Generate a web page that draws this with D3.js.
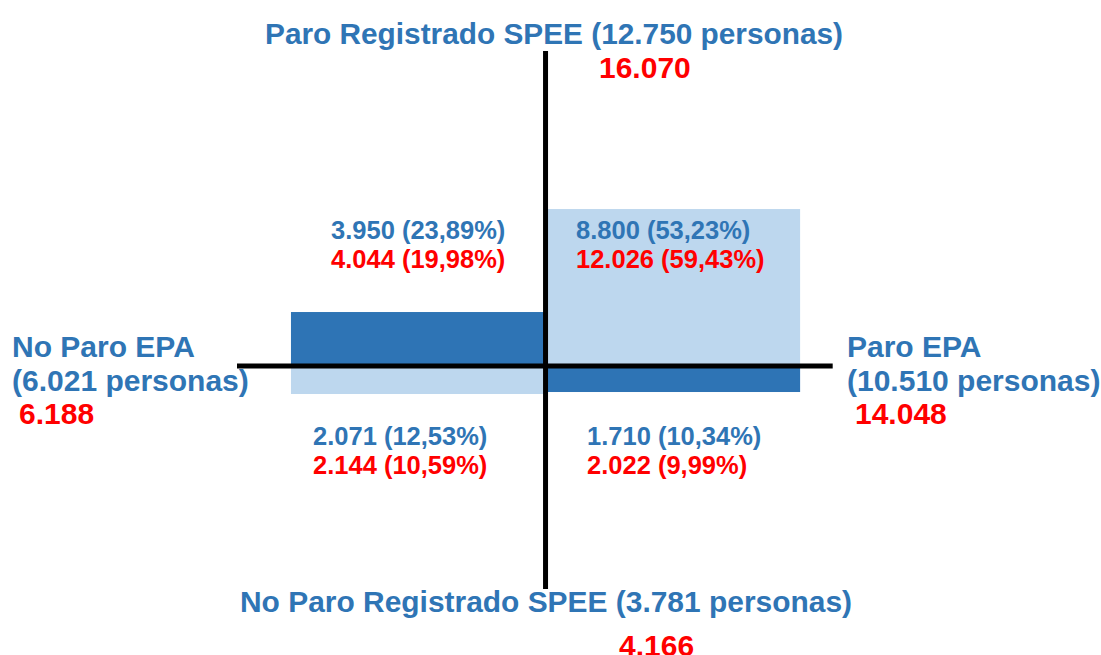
<html>
<head>
<meta charset="utf-8">
<style>
  body { margin: 0; background: #fff; }
  text { font-family: "Liberation Sans", Arial, sans-serif; font-weight: bold; }
  .blue { fill: #2f75b5; }
  .red { fill: #ff0000; }
</style>
</head>
<body>
<script src="https://cdnjs.cloudflare.com/ajax/libs/d3/7.8.5/d3.min.js"></script>
<script>
  var width = 1101,
      height = 655;

  // quadrants: side of the EPA axis (-1 no paro, 1 paro), SPEE (1 registrado, -1 no registrado)
  var quadrants = ["noEpa_spee", "epa_spee", "noEpa_noSpee", "epa_noSpee"];
  var epaSide = [-1, 1, -1, 1];
  var speeSide = [1, 1, -1, -1];
  // bar length as drawn in the picture (persons)
  var barLength = [3027, 8800, 1569, 1457];
  var barFill = ["#2e74b5", "#bdd7ee", "#bdd7ee", "#2e74b5"];
  var blueLabels = ["3.950 (23,89%)", "8.800 (53,23%)", "2.071 (12,53%)", "1.710 (10,34%)"];
  var redLabels = ["4.044 (19,98%)", "12.026 (59,43%)", "2.144 (10,59%)", "2.022 (9,99%)"];

  var axisTitles = ["Paro Registrado SPEE (12.750 personas)", "No Paro Registrado SPEE (3.781 personas)"];
  var axisTotals = ["16.070", "4.166"];
  var sideTitles = [["No Paro EPA", "(6.021 personas)"], ["Paro EPA", "(10.510 personas)"]];
  var sideTotals = ["6.188", "14.048"];

  var svg = d3.select("body").append("svg")
      .attr("width", width)
      .attr("height", height);

  var x = d3.scaleLinear().domain([-1.212, 1.128]).range([237, 832.7]);
  var y = d3.scaleLinear().domain([-12500, 17660]).range([589, 51]);

  var rows = quadrants.map(function(q, i) {
    return { id: q, side: epaSide[i], spee: speeSide[i], len: barLength[i],
             fill: barFill[i], blue: blueLabels[i], red: redLabels[i] };
  });

  svg.selectAll("rect.bar")
      .data(rows)
    .enter().append("rect")
      .attr("class", "bar")
      .attr("x", function(d) { return Math.min(x(0), x(d.side)); })
      .attr("width", function(d) { return Math.abs(x(d.side) - x(0)); })
      .attr("y", function(d) { return Math.min(y(0), y(d.spee * d.len)); })
      .attr("height", function(d) { return Math.abs(y(d.spee * d.len) - y(0)); })
      .attr("fill", function(d) { return d.fill; });

  // axis cross
  svg.append("line")
      .attr("x1", x.range()[0]).attr("x2", x.range()[1])
      .attr("y1", y(0)).attr("y2", y(0))
      .attr("stroke", "#000").attr("stroke-width", 5);
  svg.append("line")
      .attr("x1", x(0)).attr("x2", x(0))
      .attr("y1", y.range()[1]).attr("y2", y.range()[0])
      .attr("stroke", "#000").attr("stroke-width", 5);

  // quadrant labels
  var labelX = { noEpa_spee: 331, epa_spee: 576, noEpa_noSpee: 313, epa_noSpee: 587 };
  var labelY = { "1": 239, "-1": 445 };

  var lab = svg.selectAll("g.qlabel")
      .data(rows)
    .enter().append("g")
      .attr("class", "qlabel")
      .attr("transform", function(d) { return "translate(" + labelX[d.id] + "," + labelY[d.spee] + ")"; });
  lab.append("text")
      .attr("class", "blue")
      .style("font-size", "25.5px")
      .text(function(d) { return d.blue; });
  lab.append("text")
      .attr("class", "red")
      .attr("y", 28.5)
      .style("font-size", "25.5px")
      .text(function(d) { return d.red; });

  // SPEE titles top and bottom
  svg.append("text").attr("class", "blue").attr("x", 265).attr("y", 44)
      .style("font-size", "30px").attr("textLength", 578).attr("lengthAdjust", "spacingAndGlyphs")
      .text(axisTitles[0]);
  svg.append("text").attr("class", "red").attr("x", 599).attr("y", 78)
      .style("font-size", "30px").text(axisTotals[0]);
  svg.append("text").attr("class", "blue").attr("x", 240).attr("y", 612)
      .style("font-size", "30px").attr("textLength", 612).attr("lengthAdjust", "spacingAndGlyphs")
      .text(axisTitles[1]);
  svg.append("text").attr("class", "red").attr("x", 619).attr("y", 656)
      .style("font-size", "30px").text(axisTotals[1]);

  // EPA titles left and right
  var sideX = [12, 847];
  var totalX = [19, 855];
  sideTitles.forEach(function(lines, i) {
    var t = svg.append("text").attr("class", "blue").style("font-size", "30px");
    lines.forEach(function(s, j) {
      t.append("tspan").attr("x", sideX[i]).attr("y", 357 + j * 33.5).text(s);
    });
    svg.append("text").attr("class", "red").attr("x", totalX[i]).attr("y", 424)
        .style("font-size", "30px").text(sideTotals[i]);
  });
</script>
</body>
</html>
